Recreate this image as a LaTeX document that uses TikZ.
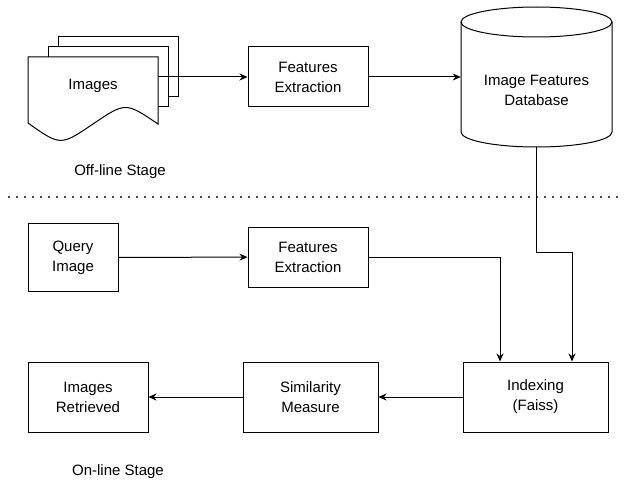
\documentclass[tikz,border=0pt]{standalone}
\usepackage{fontspec}
\setmainfont{Liberation Sans}
\usepackage{tikz}
\usetikzlibrary{arrows.meta,positioning,calc}

\begin{document}
\begin{tikzpicture}[
  x=1pt, y=-1pt,
  box/.style={draw, line width=1pt, minimum width=120pt, minimum height=60pt, align=center, font=\fontsize{15pt}{20pt}\selectfont},
  txt/.style={align=center, inner sep=0pt, font=\fontsize{15pt}{20pt}\selectfont},
  sheet/.style={draw, line width=1pt, fill=white},
  >={Stealth[length=8pt,width=7pt]}
]
\useasboundingbox (0,0) rectangle (627,495);

% stacked documents
\draw[sheet] (58,37) rectangle (178,97);
\draw[sheet] (48,47) rectangle (168,107);
\draw[sheet] (28,57) -- (158,57) -- (158,124)
  .. controls (125.5,102) .. (93,124)
  .. controls (60.5,146) .. (28,123) -- cycle;
\node[txt, minimum width=130pt] (imgs) at (93,86) {Images};

\node[box] (fe1) at (308,77) {Features\\Extraction};

% database cylinder
\node[minimum width=151pt, minimum height=140pt, inner sep=0pt] (db) at (536.5,77) {};
\draw[line width=1pt] (461,22) -- (461,132)
  arc[start angle=180, end angle=360, x radius=75.5pt, y radius=15pt] -- (612,22);
\draw[line width=1pt] (536.5,22) ellipse[x radius=75.5pt, y radius=15pt];
\node[txt] (dbtext) at (536.5,90) {Image Features\\Database};

\node[txt] (offline) at (120,172) {Off-line Stage};

\draw[line width=2pt, dash pattern=on 2pt off 6pt, black!70] (8,197) -- (620,197);

\node[box, minimum width=90pt, minimum height=68pt] (qimg) at (73,257.5) {Query\\Image};
\node[box] (fe2) at (308,257) {Features\\Extraction};
\node[box, minimum width=145pt, minimum height=70pt] (idx) at (535.5,397) {Indexing\\(Faiss)};
\node[box, minimum width=135pt, minimum height=70pt] (sim) at (310.5,397) {Similarity\\Measure};
\node[box, minimum height=70pt] (ret) at (88,397) {Images\\Retrieved};

\node[txt] (online) at (118,472) {On-line Stage};

\draw[->, line width=1pt] (imgs.east |- fe1) -- (fe1);
\draw[->, line width=1pt] (fe1) -- (db.west);
\draw[->, line width=1pt] (db.south) -- ++(0,105) -| ([xshift=36.5pt]idx.north);
\draw[->, line width=1pt] (qimg) -- (fe2);
\draw[->, line width=1pt] (fe2.east) -| ([xshift=-35.5pt]idx.north);
\draw[->, line width=1pt] (idx) -- (sim);
\draw[->, line width=1pt] (sim) -- (ret);
\end{tikzpicture}
\end{document}
